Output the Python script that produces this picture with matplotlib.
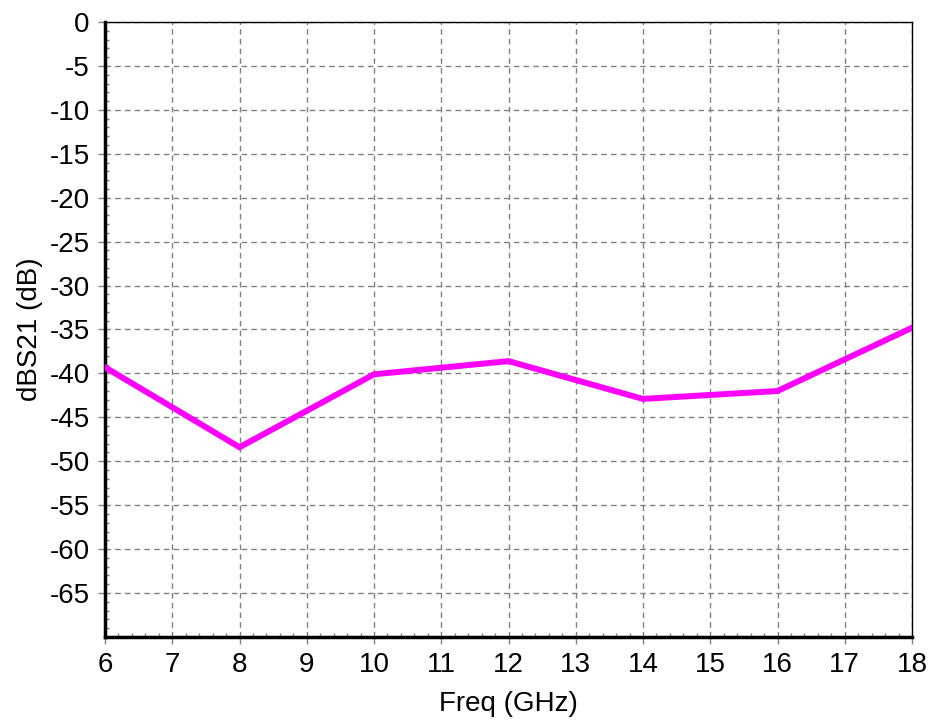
import matplotlib
matplotlib.use("Agg")
import matplotlib.pyplot as plt
from matplotlib.ticker import MultipleLocator

freq = [6, 8, 10, 12, 14, 16, 18]
dbs21 = [-39.3, -48.4, -40.1, -38.6, -42.9, -42.0, -34.8]
xticks = list(range(6, 19))
yticks = list(range(0, -70, -5))

plt.rcParams['font.family'] = ['Liberation Sans', 'DejaVu Sans']
fig = plt.figure(figsize=(9.33, 7.2), dpi=100)
ax = fig.add_axes([105/933, 1-637/720, (912-105)/933, (637-22)/720])

ax.plot(freq, dbs21, color='#FF00FF', lw=4.3, solid_joinstyle='miter', zorder=3)

ax.set_xlim(6, 18)
ax.set_ylim(-70, 0)
ax.set_xticks(xticks)
ax.set_yticks(yticks)
ax.set_yticklabels([str(v) for v in yticks])
ax.xaxis.set_minor_locator(MultipleLocator(0.2))
ax.yaxis.set_minor_locator(MultipleLocator(1))
ax.grid(True, which='major', color='#808080', ls=(0, (4, 3)), lw=1.0)
ax.tick_params(which='major', direction='out', length=5, width=1, color='#808080', labelsize=20)
ax.tick_params(axis='x', which='major', pad=6)
ax.tick_params(axis='y', which='major', pad=6)
ax.tick_params(which='minor', direction='in', length=3, width=1, color='#808080')
ax.tick_params(axis='x', which='both', top=False)
ax.tick_params(axis='y', which='both', right=False)

for s in ['left', 'bottom']:
    ax.spines[s].set_linewidth(2.5)
for s in ['top', 'right']:
    ax.spines[s].set_linewidth(1.0)

ax.set_xlabel('Freq (GHz)', fontsize=20, labelpad=9)
ax.set_ylabel('dBS21 (dB)', fontsize=20, labelpad=5)

fig.savefig('out.png', dpi=100)
